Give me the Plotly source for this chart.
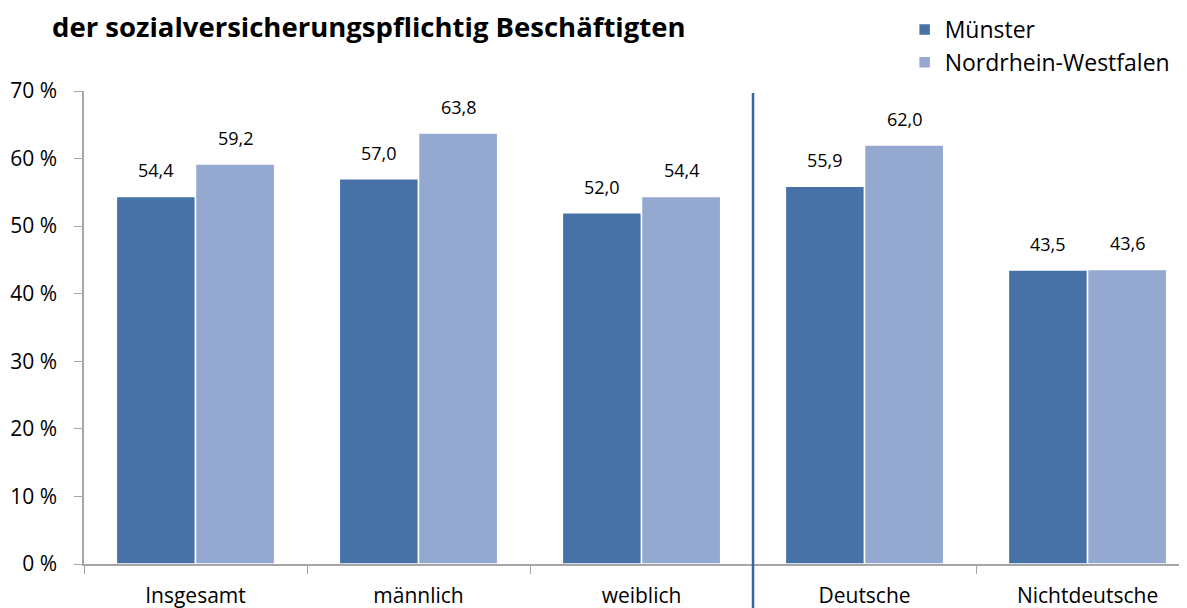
import plotly.graph_objects as go

# Daten
KATEGORIEN = ["Insgesamt", "männlich", "weiblich", "Deutsche", "Nichtdeutsche"]
MUENSTER = [54.4, 57.0, 52.0, 55.9, 43.5]
NRW = [59.2, 63.8, 54.4, 62.0, 43.6]
SERIEN = ["Münster", "Nordrhein-Westfalen"]
TITEL = "der sozialversicherungspflichtig Beschäftigten"

FARBE_MS = "#4672A8"
FARBE_NRW = "#95A9D0"
FONT = "Open Sans"

# Seite hat 8px Rand -> Figur etwas kleiner
BREITE, HOEHE = 1179, 600

fig = go.Figure()

fig.add_trace(go.Bar(
    x=KATEGORIEN, y=MUENSTER, name=SERIEN[0],
    marker=dict(color=FARBE_MS, line=dict(color="white", width=1.5)),
))
fig.add_trace(go.Bar(
    x=KATEGORIEN, y=NRW, name=SERIEN[1],
    marker=dict(color=FARBE_NRW, line=dict(color="white", width=1.5)),
))

# Wertbeschriftungen ueber den Balken
for werte, verschiebung in [(MUENSTER, -40), (NRW, 40)]:
    for kat, wert in zip(KATEGORIEN, werte):
        fig.add_annotation(
            x=kat, y=wert, text=f"{wert:.1f}".replace(".", ","),
            xref="x", yref="y", showarrow=False,
            xshift=verschiebung, yshift=26,
            font=dict(family=FONT, size=18, color="#000000"),
        )

# Trennlinie zwischen Geschlecht und Nationalitaet
fig.add_shape(
    type="line", xref="x", yref="paper",
    x0=2.5, x1=2.5, y0=-0.12, y1=0.996,
    line=dict(color="#3A64A0", width=2.5),
)

fig.update_layout(
    width=BREITE, height=HOEHE,
    margin=dict(l=76, r=0, t=83, b=44, autoexpand=False),
    paper_bgcolor="white", plot_bgcolor="white",
    barmode="group", bargap=0.29, bargroupgap=0,
    separators=",.",
    font=dict(family=FONT, size=21, color="#000000"),
    title=dict(
        text=f"<b>{TITEL}</b>", x=44 / BREITE, xanchor="left",
        y=1 - 19 / HOEHE, yanchor="middle",
        font=dict(family=FONT, size=27.5, color="#000000"),
    ),
    legend=dict(
        x=0.744, y=1 + 83 / 473, xanchor="left", yanchor="top",
        font=dict(family=FONT, size=23, color="#000000"),
        itemwidth=30, tracegroupgap=0, bgcolor="rgba(0,0,0,0)",
    ),
    showlegend=True,
)

fig.update_xaxes(
    range=[-0.5, 4.446], automargin=False,
    showline=True, linecolor="#A6A6A6", linewidth=1.5,
    ticks="outside", tickson="boundaries", ticklen=8, tickcolor="#A6A6A6",
    ticklabelstandoff=12,
    tickfont=dict(family=FONT, size=21),
)
fig.update_yaxes(
    range=[0, 70], dtick=10, ticksuffix=" %", automargin=False,
    showline=True, linecolor="#A6A6A6", linewidth=1.5,
    ticks="outside", ticklen=8, tickcolor="#A6A6A6",
    showgrid=False, zeroline=False,
    ticklabelstandoff=13,
    tickfont=dict(family=FONT, size=21),
)

fig.write_html("out.html")
